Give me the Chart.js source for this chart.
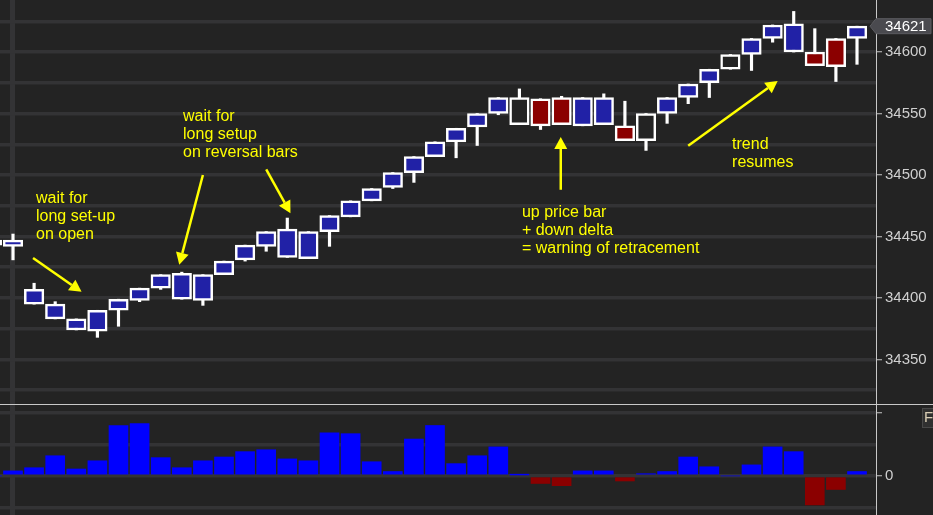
<!DOCTYPE html>
<html>
<head>
<meta charset="utf-8">
<script src="https://cdn.jsdelivr.net/npm/chart.js@4.4.1/dist/chart.umd.min.js"></script>
<style>
  html, body { margin: 0; padding: 0; background: #232323; overflow: hidden; }
  #top { position: relative; width: 933px; height: 404px; }
  #sep { width: 933px; height: 1px; background: #c8c8c8; }
  #bottom { position: relative; width: 933px; height: 110px; }
</style>
</head>
<body>
<div id="top"><canvas id="priceChart"></canvas></div>
<div id="sep"></div>
<div id="bottom"><canvas id="deltaChart"></canvas></div>
<script>
// bar numbers (bar -1 is only partly visible at the left edge)
var bars = [-1, 0, 1, 2, 3, 4, 5, 6, 7, 8, 9, 10, 11, 12, 13, 14, 15, 16, 17, 18, 19, 20,
  21, 22, 23, 24, 25, 26, 27, 28, 29, 30, 31, 32, 33, 34, 35, 36, 37, 38, 39, 40];

var openP = [34443, 34442, 34407, 34395, 34383, 34373, 34390, 34398, 34408, 34420, 34398, 34419,
  34431, 34442, 34456, 34432, 34454, 34466, 34479, 34490, 34502, 34515, 34527, 34539, 34550, 34563,
  34540, 34541, 34540, 34541, 34540, 34528, 34550, 34563, 34575, 34586, 34598, 34611, 34623, 34600,
  34588, 34611];
var highP = [34448, 34452, 34412, 34397, 34383, 34390, 34399, 34408, 34419, 34421, 34419, 34430,
  34443, 34454, 34465, 34454, 34467, 34479, 34489, 34502, 34515, 34527, 34538, 34550, 34563, 34570,
  34562, 34564, 34563, 34566, 34560, 34550, 34563, 34574, 34586, 34598, 34611, 34622, 34633, 34619,
  34611, 34621];
var lowP = [34440, 34431, 34395, 34383, 34374, 34368, 34377, 34397, 34407, 34399, 34394, 34419,
  34430, 34438, 34433, 34432, 34442, 34466, 34479, 34489, 34494, 34515, 34514, 34524, 34549, 34541,
  34537, 34541, 34540, 34541, 34528, 34520, 34542, 34558, 34563, 34586, 34585, 34608, 34600, 34589,
  34576, 34590];
var closeP = [34447, 34447, 34395, 34383, 34374, 34390, 34399, 34408, 34419, 34399, 34419, 34430,
  34443, 34454, 34433, 34454, 34467, 34479, 34489, 34502, 34515, 34527, 34538, 34550, 34563, 34541,
  34562, 34563, 34563, 34563, 34528, 34550, 34563, 34574, 34586, 34598, 34611, 34622, 34600, 34589,
  34611, 34621];

// bar delta (lower pane)
var delta = [0, 16, 26, 64, 22, 48, 160, 166, 58, 26, 48, 60, 77, 83, 54, 48, 137, 134, 45, 14,
  117, 160, 39, 64, 92, 3, -24, -31, 16, 16, -16, 7, 14, 60, 29, 0, 35, 92, 77, -92, -43, 14];

var priceTicks = [34325, 34350, 34375, 34400, 34425, 34450, 34475, 34500, 34525, 34550, 34575, 34600, 34625];
var deltaTicks = [-100, 0, 100, 200];

// chart notes: [bar, price of first baseline, text]
var notes = [
  [1.09, 34477, 'wait for\nlong set-up\non open'],
  [8.06, 34544, 'wait for\nlong setup\non reversal bars'],
  [24.12, 34465.5, 'up price bar\n+ down delta\n= warning of retracement'],
  [34.08, 34521.5, 'trend\nresumes']
];
// arrows: [bar from, price from, bar to, price to]
var arrows = [
  [0.95, 34432.5, 3.25, 34405],
  [9.0, 34500, 7.88, 34427],
  [12.0, 34504.6, 13.15, 34469],
  [25.96, 34488, 25.96, 34531],
  [32.0, 34523.8, 36.24, 34576.4]
];

var BG = '#232323';
var GRID = '#333335';
var AXIS = '#c8c8c8';
var LABEL = '#cfcfcf';
var FONT = "'Liberation Sans', Arial, sans-serif";

function bodyColor(d) {
  if (d > 10) return '#2121a6';
  if (d < -10) return '#8b0000';
  return BG;
}

function xScaleOpts() {
  return {
    type: 'linear',
    min: -0.616,
    max: 40.9,
    offset: false,
    ticks: { display: false },
    grid: { color: GRID, lineWidth: 5, drawTicks: false, offset: false },
    border: { display: false },
    afterBuildTicks: function (s) { s.ticks = [{ value: 0 }]; },
    afterFit: function (s) { s.height = 0; s.paddingLeft = 0; s.paddingRight = 0; }
  };
}

function fitRightAxis(s) {
  s.width = 57;
  s.paddingTop = 0;
  s.paddingBottom = 0;
}

var notesPlugin = {
  id: 'notes',
  afterDatasetsDraw: function (chart) {
    var c = chart.ctx, xs = chart.scales.x, ys = chart.scales.y;
    c.save();
    c.fillStyle = '#ffff00';
    c.strokeStyle = '#ffff00';
    c.lineWidth = 2.5;
    arrows.forEach(function (a) {
      var x1 = xs.getPixelForValue(a[0]), y1 = ys.getPixelForValue(a[1]);
      var x2 = xs.getPixelForValue(a[2]), y2 = ys.getPixelForValue(a[3]);
      var ang = Math.atan2(y2 - y1, x2 - x1), len = 12, half = 6.5;
      var bx = x2 - len * Math.cos(ang), by = y2 - len * Math.sin(ang);
      c.beginPath();
      c.moveTo(x1, y1);
      c.lineTo(bx, by);
      c.stroke();
      c.beginPath();
      c.moveTo(x2, y2);
      c.lineTo(bx + half * Math.sin(ang), by - half * Math.cos(ang));
      c.lineTo(bx - half * Math.sin(ang), by + half * Math.cos(ang));
      c.closePath();
      c.fill();
    });
    c.font = '16px ' + FONT;
    c.textBaseline = 'alphabetic';
    c.textAlign = 'left';
    notes.forEach(function (n) {
      var x = xs.getPixelForValue(n[0]), y = ys.getPixelForValue(n[1]);
      n[2].split('\n').forEach(function (line, k) {
        c.fillText(line, x, y + k * 18);
      });
    });
    c.restore();
  }
};

var lastPricePlugin = {
  id: 'lastPrice',
  afterDraw: function (chart) {
    var c = chart.ctx, ys = chart.scales.y, a = chart.chartArea;
    var last = closeP[closeP.length - 1];
    var y = ys.getPixelForValue(last);
    c.save();
    c.beginPath();
    c.moveTo(a.right - 6, y);
    c.lineTo(a.right, y - 7.5);
    c.lineTo(a.right + 55, y - 7.5);
    c.lineTo(a.right + 55, y + 7.5);
    c.lineTo(a.right, y + 7.5);
    c.closePath();
    c.fillStyle = '#4a4a4f';
    c.fill();
    c.strokeStyle = '#5c5c60';
    c.lineWidth = 1;
    c.stroke();
    c.fillStyle = '#ffffff';
    c.font = '15px ' + FONT;
    c.textBaseline = 'middle';
    c.fillText(String(last), a.right + 9, y + 0.5);
    c.restore();
  }
};

var fBoxPlugin = {
  id: 'fBox',
  afterDraw: function (chart) {
    var c = chart.ctx, a = chart.chartArea;
    c.save();
    c.fillStyle = '#303030';
    c.fillRect(a.right + 46, 3, 14, 19);
    c.strokeStyle = '#484848';
    c.strokeRect(a.right + 46.5, 3.5, 14, 19);
    c.fillStyle = '#d8cdb4';
    c.font = '15px ' + FONT;
    c.textBaseline = 'middle';
    c.fillText('F', a.right + 48, 13);
    c.restore();
  }
};

var wickData = bars.map(function (b, k) { return { x: b, y: [lowP[k], highP[k]] }; });
var bodyData = bars.map(function (b, k) { return { x: b, y: [openP[k], closeP[k]] }; });
var deltaData = bars.map(function (b, k) { return { x: b, y: delta[k] }; });

new Chart(document.getElementById('priceChart').getContext('2d'), {
  type: 'bar',
  data: {
    datasets: [
      {
        label: 'bodies',
        data: bodyData,
        order: 1,
        grouped: false,
        barThickness: 19.5,
        borderWidth: 2.5,
        borderColor: '#ffffff',
        borderSkipped: false,
        backgroundColor: function (ctx) { return bodyColor(delta[ctx.dataIndex]); }
      },
      {
        label: 'wicks',
        data: wickData,
        order: 2,
        grouped: false,
        barThickness: 2.5,
        borderWidth: 0,
        backgroundColor: '#ffffff'
      }
    ]
  },
  options: {
    responsive: true,
    maintainAspectRatio: false,
    animation: false,
    layout: { padding: 0 },
    plugins: { legend: { display: false }, tooltip: { enabled: false } },
    scales: {
      x: xScaleOpts(),
      y: {
        position: 'right',
        min: 34313.8,
        max: 34642.3,
        afterBuildTicks: function (s) { s.ticks = priceTicks.map(function (v) { return { value: v }; }); },
        afterFit: fitRightAxis,
        ticks: {
          color: LABEL,
          font: { family: FONT, size: 15 },
          padding: 3,
          callback: function (v) { return v % 50 === 0 ? String(v) : ''; }
        },
        grid: {
          color: GRID,
          lineWidth: 3.5,
          tickLength: 6,
          tickWidth: 1,
          tickColor: function (ctx) { return ctx.tick && ctx.tick.value % 50 === 0 ? AXIS : 'rgba(0,0,0,0)'; }
        },
        border: { display: true, color: AXIS, width: 1 }
      }
    }
  },
  plugins: [notesPlugin, lastPricePlugin]
});

new Chart(document.getElementById('deltaChart').getContext('2d'), {
  type: 'bar',
  data: {
    datasets: [{
      label: 'delta',
      data: deltaData,
      grouped: false,
      barThickness: 19,
      borderWidth: 0,
      backgroundColor: function (ctx) { return delta[ctx.dataIndex] >= 0 ? '#0000ff' : '#8b0000'; }
    }]
  },
  options: {
    responsive: true,
    maintainAspectRatio: false,
    animation: false,
    layout: { padding: 0 },
    plugins: { legend: { display: false }, tooltip: { enabled: false } },
    scales: {
      x: xScaleOpts(),
      y: {
        position: 'right',
        min: -124,
        max: 225,
        afterBuildTicks: function (s) { s.ticks = deltaTicks.map(function (v) { return { value: v }; }); },
        afterFit: fitRightAxis,
        ticks: {
          color: LABEL,
          font: { family: FONT, size: 15 },
          padding: 3,
          callback: function (v) { return v === 0 ? '0' : ''; }
        },
        grid: {
          color: GRID,
          lineWidth: 3.5,
          tickLength: 6,
          tickWidth: 1,
          tickColor: function (ctx) { return ctx.tick && ctx.tick.value % 200 === 0 ? AXIS : 'rgba(0,0,0,0)'; }
        },
        border: { display: true, color: AXIS, width: 1 }
      }
    }
  },
  plugins: [fBoxPlugin]
});
</script>
</body>
</html>
